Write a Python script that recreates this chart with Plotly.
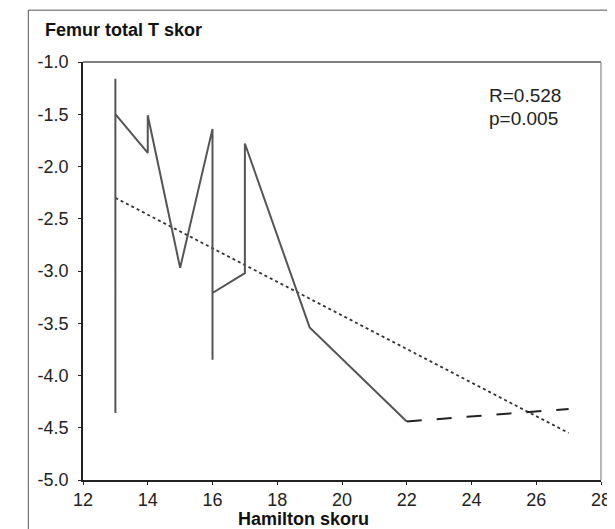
import plotly.graph_objects as go

# Hamilton score (x) vs femur total T score (y), connected in data order
ham_x = [13, 13, 13, 14, 14, 15, 16, 16, 16, 17, 17, 19, 22]
tscore_y = [-4.36, -1.16, -1.50, -1.87, -1.51, -2.97, -1.64, -3.85, -3.21, -3.02, -1.78, -3.54, -4.44]
# last segment drawn dashed
tail_x = [22, 27]
tail_y = [-4.44, -4.32]
# regression line end points
reg_x = [13, 27]
reg_y = [-2.30, -4.55]

x_ticks = [12, 14, 16, 18, 20, 22, 24, 26, 28]
y_ticks = [-1.0, -1.5, -2.0, -2.5, -3.0, -3.5, -4.0, -4.5, -5.0]

FONT = "Liberation Sans, Arial, sans-serif"

fig = go.Figure()
fig.add_trace(go.Scatter(x=reg_x, y=reg_y, mode="lines",
                         line=dict(color="#333333", width=1.8, dash="dot"),
                         showlegend=False))
fig.add_trace(go.Scatter(x=ham_x, y=tscore_y, mode="lines",
                         line=dict(color="#555555", width=2),
                         showlegend=False))
fig.add_trace(go.Scatter(x=tail_x, y=tail_y, mode="lines",
                         line=dict(color="#222222", width=2, dash="longdash"),
                         showlegend=False))

fig.update_layout(
    width=615, height=529,
    margin=dict(l=75, r=19, t=54, b=57),
    paper_bgcolor="white", plot_bgcolor="white",
    font=dict(family=FONT, size=18, color="#222222"),
    xaxis=dict(range=[12, 28], tickvals=x_ticks, ticktext=[str(v) for v in x_ticks],
               showgrid=False, zeroline=False, showline=True, mirror=False,
               linecolor="#222222", linewidth=1.6, ticks="outside", ticklen=3,
               tickcolor="#222222", tickfont=dict(size=18), ticklabelstandoff=0),
    yaxis=dict(range=[-5, -1], tickvals=y_ticks, ticktext=[f"{v:.1f}" for v in y_ticks],
               showgrid=False, zeroline=False, showline=True, mirror=False,
               linecolor="#222222", linewidth=1.6, ticks="outside", ticklen=3,
               tickcolor="#222222", tickfont=dict(size=18), ticklabelstandoff=6),
    shapes=[
        dict(type="line", xref="paper", yref="paper", x0=0, x1=1, y0=1, y1=1,
             line=dict(color="#555555", width=1.6)),
        dict(type="line", xref="paper", yref="paper", x0=1, x1=1, y0=0, y1=1,
             line=dict(color="#888888", width=1.2)),
        dict(type="rect", xref="paper", yref="paper",
             x0=-0.1056, x1=1.0326, y0=-0.14, y1=1.124,
             line=dict(color="#555555", width=1)),
    ],
    annotations=[
        dict(text="<b>Femur total T skor</b>", xref="paper", yref="paper",
             x=-0.077, y=1.077, xanchor="left", yanchor="middle", showarrow=False,
             font=dict(size=18, family=FONT, color="#111111")),
        dict(text="<b>Hamilton skoru</b>", xref="paper", yref="paper",
             x=0.426, y=-0.094, xanchor="center", yanchor="middle", showarrow=False,
             font=dict(size=18, family=FONT, color="#111111")),
        dict(text="R=0.528", xref="paper", yref="paper",
             x=0.779, y=0.921, xanchor="left", yanchor="middle", showarrow=False,
             font=dict(size=19, family=FONT, color="#222222")),
        dict(text="p=0.005", xref="paper", yref="paper",
             x=0.779, y=0.866, xanchor="left", yanchor="middle", showarrow=False,
             font=dict(size=19, family=FONT, color="#222222")),
    ],
)

fig.write_html("out.html")
